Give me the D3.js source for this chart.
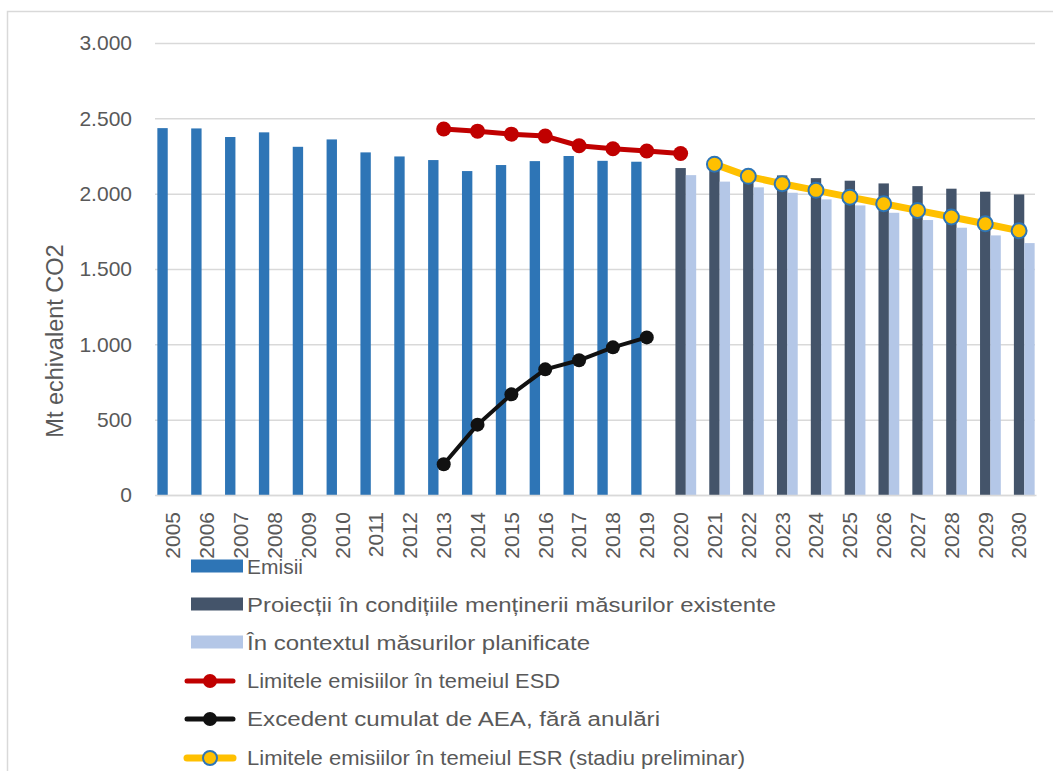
<!DOCTYPE html>
<html>
<head>
    <meta charset="utf-8" />
    <title>Emisii si limite ESD / ESR</title>
    <script src="https://d3js.org/d3.v7.min.js"></script>
    <style>
        body { margin: 0; background: #fff; }
        text { font-family: "Liberation Sans", Arial, sans-serif; fill: #595959; }
    </style>
</head>
<body>
    <div id="chart"></div>
    <script>
        // categories and values
        var years = d3.range(2005, 2031).map(String);
        var seriesNames = ["Emisii", "Proiectii", "Planificate"];
        var emisii = [2435, 2433, 2376, 2407, 2311, 2360, 2274, 2247, 2223, 2150, 2190, 2216, 2250, 2218, 2212];
        var proiectii = [2170, 2158, 2140, 2121, 2103, 2086, 2068, 2050, 2033, 2013, 1995];
        var planificate = [2123, 2080, 2042, 2006, 1962, 1922, 1873, 1825, 1774, 1723, 1672];
        var esd = [2429, 2415, 2395, 2382, 2318, 2298, 2283, 2267];
        var aea = [204, 467, 668, 834, 894, 980, 1046];
        var esr = [2196, 2115, 2066, 2022, 1977, 1933, 1889, 1845, 1800, 1754];
        var yTicks = [0, 500, 1000, 1500, 2000, 2500, 3000];

        var colors = { Emisii: "#2E75B6", Proiectii: "#44546A", Planificate: "#B4C7E7" };

        var svg = d3.select("#chart").append("svg")
            .attr("width", 1053).attr("height", 771);

        // chart border
        svg.append("rect")
            .attr("x", 7.5).attr("y", 11.5)
            .attr("width", 1060).attr("height", 780)
            .attr("fill", "none").attr("stroke", "#d9d9d9").attr("stroke-width", 1.5);

        var x0 = d3.scaleBand().domain(years).range([156, 1036]).paddingInner(0).paddingOuter(0);
        var x1 = d3.scaleBand().domain(seriesNames).range([0, x0.bandwidth()])
            .paddingInner(0).paddingOuter(0.13);
        var y = d3.scaleLinear().domain([0, 3000]).range([495, 43]);

        var fmt = function(v) { return d3.format(",")(v).replace(/,/g, "."); };

        // gridlines and y labels
        var yAxis = svg.append("g").attr("transform", "translate(155,0)")
            .call(d3.axisLeft(y).tickValues(yTicks).tickSize(-880).tickFormat(fmt).tickPadding(23));
        yAxis.select(".domain").remove();
        yAxis.selectAll(".tick line").attr("stroke", "#d9d9d9").attr("stroke-width", 1.5);
        yAxis.selectAll(".tick text").style("font-size", "21px").attr("fill", "#595959");

        svg.append("text")
            .attr("transform", "translate(63,341) rotate(-90)")
            .attr("text-anchor", "middle")
            .style("font-size", "23.5px")
            .text("Mt echivalent CO2");

        // bars
        function bars(name, values, startYear) {
            svg.append("g").selectAll("rect")
                .data(values)
                .join("rect")
                .attr("x", function(d, i) { return x0(String(startYear + i)) + x1(name); })
                .attr("y", function(d) { return y(d); })
                .attr("width", x1.bandwidth())
                .attr("height", function(d) { return y(0) - y(d); })
                .attr("fill", colors[name]);
        }
        bars("Emisii", emisii, 2005);
        bars("Proiectii", proiectii, 2020);
        bars("Planificate", planificate, 2020);

        // x axis
        var xAxis = svg.append("g").attr("transform", "translate(0,495)")
            .call(d3.axisBottom(x0).tickSize(0).tickPadding(0));
        xAxis.select(".domain").attr("stroke", "#d9d9d9").attr("stroke-width", 1.5);
        xAxis.selectAll(".tick text")
            .style("font-size", "21px")
            .attr("fill", "#595959")
            .attr("transform", "rotate(-90)")
            .attr("text-anchor", "end")
            .attr("x", -17).attr("y", 0).attr("dy", "0.35em");

        // lines
        var cx = function(d) { return x0(d.year) + x0.bandwidth() / 2; };
        function lineSeries(values, startYear, color, width, r, markerFill, markerStroke) {
            var data = values.map(function(v, i) { return { year: String(startYear + i), value: v }; });
            var line = d3.line().x(cx).y(function(d) { return y(d.value); });
            svg.append("path").datum(data)
                .attr("d", line).attr("fill", "none")
                .attr("stroke", color).attr("stroke-width", width)
                .attr("stroke-linejoin", "round");
            svg.append("g").selectAll("circle").data(data).join("circle")
                .attr("cx", cx).attr("cy", function(d) { return y(d.value); })
                .attr("r", r).attr("fill", markerFill)
                .attr("stroke", markerStroke).attr("stroke-width", markerStroke == "none" ? 0 : 2);
        }
        lineSeries(esd, 2013, "#C00000", 5, 7.5, "#C00000", "none");
        lineSeries(aea, 2013, "#111111", 4, 7, "#111111", "none");
        lineSeries(esr, 2021, "#FFC000", 7, 7.5, "#FFC000", "#2E75B6");

        // legend
        var legendRows = [
            { type: "bar", color: colors.Emisii, label: "Emisii", y: 566, w: 56 },
            { type: "bar", color: colors.Proiectii, label: "Proiecții în condițiile menținerii măsurilor existente", y: 604, w: 529 },
            { type: "bar", color: colors.Planificate, label: "În contextul măsurilor planificate", y: 642, w: 343 },
            { type: "line", color: "#C00000", fill: "#C00000", stroke: "none", label: "Limitele emisiilor în temeiul ESD", y: 681, w: 313 },
            { type: "line", color: "#111111", fill: "#111111", stroke: "none", label: "Excedent cumulat de AEA, fără anulări", y: 719, w: 413 },
            { type: "line", color: "#FFC000", fill: "#FFC000", stroke: "#2E75B6", label: "Limitele emisiilor în temeiul ESR (stadiu preliminar)", y: 758, w: 498 }
        ];
        var leg = svg.append("g");
        legendRows.forEach(function(d) {
            if (d.type == "bar") {
                leg.append("rect").attr("x", 191).attr("y", d.y - 6.5)
                    .attr("width", 52).attr("height", 13).attr("fill", d.color);
            } else {
                leg.append("line").attr("x1", 187).attr("x2", 233)
                    .attr("y1", d.y).attr("y2", d.y)
                    .attr("stroke", d.color).attr("stroke-width", d.stroke == "none" ? 5 : 7)
                    .attr("stroke-linecap", "round");
                leg.append("circle").attr("cx", 210).attr("cy", d.y).attr("r", 7)
                    .attr("fill", d.fill).attr("stroke", d.stroke)
                    .attr("stroke-width", d.stroke == "none" ? 0 : 2);
            }
            leg.append("text").attr("x", 247).attr("y", d.y).attr("dy", "0.36em")
                .style("font-size", d.type == "bar" ? "21px" : "20px")
                .attr("textLength", d.w).attr("lengthAdjust", "spacingAndGlyphs")
                .text(d.label);
        });
    </script>
</body>
</html>
